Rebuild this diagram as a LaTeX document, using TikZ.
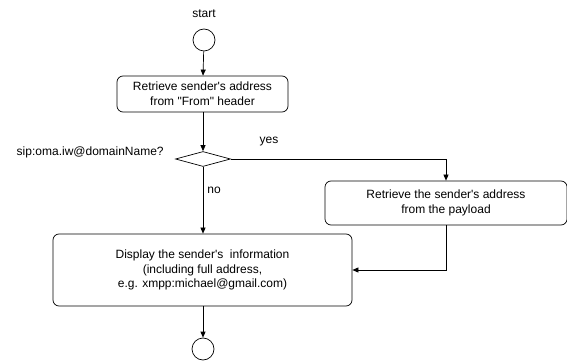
\documentclass[tikz,border=0pt]{standalone}
\usepackage{fontspec}
\setmainfont{Liberation Sans}[Ligatures=TeXOff]
\usetikzlibrary{arrows.meta,shapes.geometric}
\begin{document}
\begin{tikzpicture}[x=1pt,y=-1pt,
  font=\fontsize{12}{14.8}\selectfont,
  every path/.style={line width=0.7pt},
  flow/.style={draw, -{Triangle[length=6pt,width=5pt]}},
  actbox/.style={draw, rounded corners=6pt, align=center, inner sep=0pt},
  endpt/.style={draw, circle, minimum size=22pt, inner sep=0pt},
  decision/.style={draw, diamond, minimum width=55pt, minimum height=15pt, inner sep=0pt},
  lbl/.style={inner sep=0pt}]
\useasboundingbox (0,0) rectangle (567,363);

\node[lbl] (startlbl) at (204,14) {start};
\node[endpt] (start) at (204,40) {};
\node[actbox, minimum width=171pt, minimum height=36pt] (fromhdr) at (202.5,94)
  {Retrieve sender's address\\from "From" header};
\node[decision] (check) at (203,159) {};
\node[lbl, anchor=east] (cond) at (164,152) {sip:oma.iw@domainName?};
\node[lbl] (yes) at (269,142) {yes};
\node[lbl, anchor=west] (no) at (207,190) {no};
\node[actbox, minimum width=242pt, minimum height=44pt] (payload) at (446,203)
  {Retrieve the sender's address\\from the payload};
\node[actbox, minimum width=299pt, minimum height=72pt] (display) at (202.5,270)
  {Display the sender's\ \ information\\(including full address,\\e.g. xmpp:michael@gmail.com)};
\node[endpt] (stop) at (203,349) {};

\draw[flow] (start) -- (fromhdr);
\draw[flow] (fromhdr.south -| check.north) -- (check.north);
\draw[flow] (check.east) -| (payload.north);
\draw[flow] (check.south) -- (display.north -| check.south);
\draw[flow] (payload.south) |- (display.east);
\draw[flow] (display.south -| stop.north) -- (stop.north);
\end{tikzpicture}
\end{document}
